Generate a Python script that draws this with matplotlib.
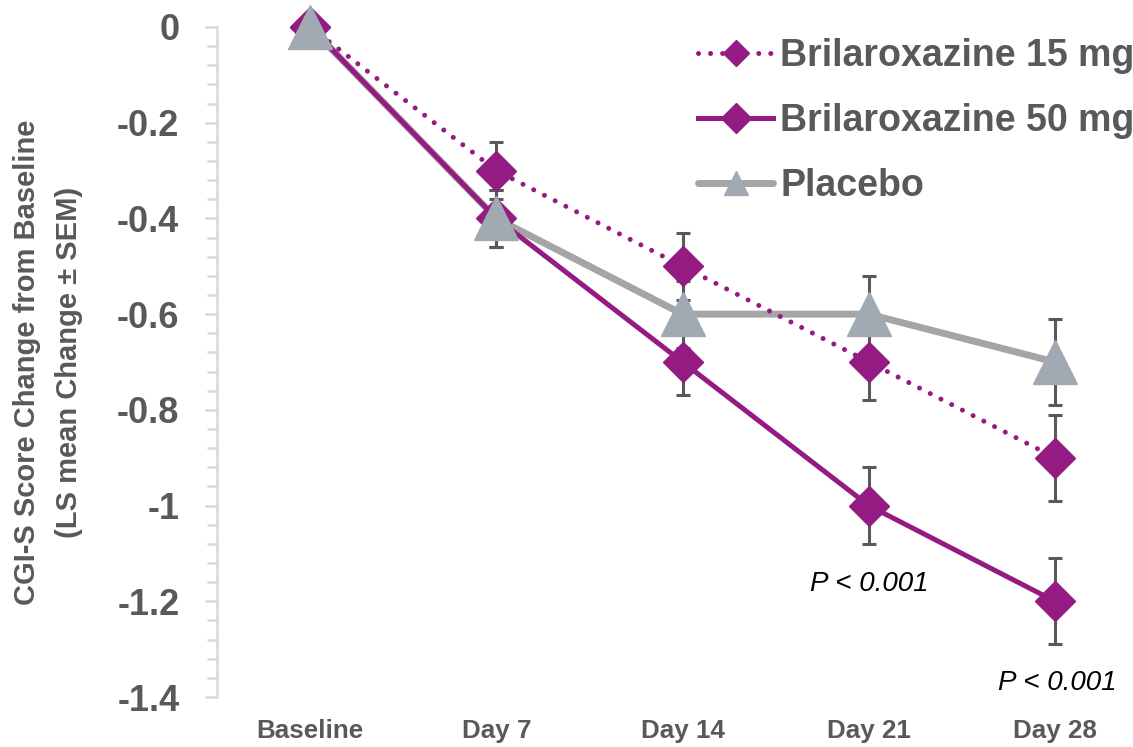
import matplotlib
matplotlib.use("Agg")
import matplotlib.pyplot as plt
from matplotlib.lines import Line2D
from matplotlib.ticker import MultipleLocator, FuncFormatter

# Visit labels and LS mean change from baseline (with SEM)
visits = ["Baseline", "Day 7", "Day 14", "Day 21", "Day 28"]
brx15_mean = [0.0, -0.3, -0.5, -0.7, -0.9]
brx15_sem = [0.0, 0.06, 0.07, 0.08, 0.09]
brx50_mean = [0.0, -0.4, -0.7, -1.0, -1.2]
brx50_sem = [0.0, 0.06, 0.07, 0.08, 0.09]
placebo_mean = [0.0, -0.4, -0.6, -0.6, -0.7]
placebo_sem = [0.0, 0.06, 0.07, 0.08, 0.09]
series_names = ["Brilaroxazine 15 mg", "Brilaroxazine 50 mg", "Placebo"]
pvalue_text = "P < 0.001"

PURPLE = "#941B82"
GRAY_LINE = "#A5A5A5"
GRAY_MARK = "#A1A9B2"
ERR = "#595959"
TXT = "#595959"
AXIS = "#D9D9D9"

plt.rcParams["font.family"] = ["Liberation Sans", "DejaVu Sans"]
plt.rcParams["axes.unicode_minus"] = False

fig = plt.figure(figsize=(11.33, 7.47), dpi=100)
W, H = 1133, 747
ax = fig.add_axes([217 / W, 1 - 697 / H, (W - 217) / W, (697 - 27) / H])

x = list(range(len(visits)))

# Error bars (behind the markers)
err_kw = dict(fmt="none", ecolor=ERR, elinewidth=2.2, capsize=4.7, capthick=2.2,
              zorder=2, clip_on=False)
for m, s in [(brx15_mean, brx15_sem), (brx50_mean, brx50_sem), (placebo_mean, placebo_sem)]:
    idx = [i for i in x if s[i] > 0]
    ax.errorbar([x[i] for i in idx], [m[i] for i in idx], yerr=[s[i] for i in idx], **err_kw)

# Lines
ax.plot(x, placebo_mean, color=GRAY_LINE, lw=5, solid_capstyle="round", zorder=3, clip_on=False)
ax.plot(x, brx50_mean, color=PURPLE, lw=3.6, zorder=3, clip_on=False)
ax.plot(x, brx15_mean, color=PURPLE, lw=3.6, linestyle=(0, (0.01, 2.4)),
        dash_capstyle="round", zorder=3, clip_on=False)

# Markers
ax.plot(x, brx15_mean, linestyle="none", marker="D", ms=20, color=PURPLE, zorder=4, clip_on=False)
ax.plot(x, brx50_mean, linestyle="none", marker="D", ms=20, color=PURPLE, zorder=4, clip_on=False)
ax.plot(x, placebo_mean, linestyle="none", marker="^", ms=31, color=GRAY_MARK, zorder=5, clip_on=False)

# Significance annotations
ax.text(3, -1.164, pvalue_text, ha="center", va="center", fontsize=20,
        style="italic", color="black")
ax.text(4.01, -1.371, pvalue_text, ha="center", va="center", fontsize=20,
        style="italic", color="black")

ax.set_xlim(-0.5, 4 + 78 / 186.25)
ax.set_ylim(-1.4, 0)

for side in ["top", "right", "bottom"]:
    ax.spines[side].set_visible(False)
ax.spines["left"].set_color(AXIS)
ax.spines["left"].set_linewidth(1.8)

ax.set_xticks(x)
ax.set_xticklabels(visits)
ax.tick_params(axis="x", length=0, pad=16, labelsize=18.7, labelcolor=TXT)
for t in ax.get_xticklabels():
    t.set_fontweight("bold")

ax.yaxis.set_major_locator(MultipleLocator(0.2))
ax.yaxis.set_minor_locator(MultipleLocator(0.04))
ax.yaxis.set_major_formatter(FuncFormatter(lambda v, p: f"{round(v, 2):g}" if abs(v) > 1e-9 else "0"))
ax.tick_params(axis="y", which="major", length=9, width=1.8, color=AXIS, pad=18,
               labelsize=26, labelcolor=TXT)
ax.tick_params(axis="y", which="minor", length=7, width=1.8, color=AXIS)
for t in ax.get_yticklabels():
    t.set_fontweight("bold")

fig.text(48 / W, 1 - 362 / H,
         "CGI-S Score Change from Baseline\n(LS mean Change \u00b1 SEM)",
         rotation=90, ha="center", va="center", ma="center", fontsize=21,
         fontweight="bold", color=TXT, linespacing=1.6)

# Legend
handles = [
    Line2D([], [], color=PURPLE, lw=3.6, linestyle=(0, (0.01, 2.4)), dash_capstyle="round",
           marker="D", ms=13, markerfacecolor=PURPLE, markeredgecolor=PURPLE),
    Line2D([], [], color=PURPLE, lw=3.6, marker="D", ms=15),
    Line2D([], [], color=GRAY_LINE, lw=5, solid_capstyle="round", marker="^", ms=17,
           markerfacecolor=GRAY_MARK, markeredgecolor=GRAY_MARK),
]
leg = ax.legend(handles, series_names, loc="upper left", bbox_to_anchor=(698 / W, 1 - 38 / H),
                bbox_transform=fig.transFigure, frameon=False, fontsize=27,
                handlelength=2.0, handletextpad=0.2, labelspacing=0.78, borderpad=0,
                borderaxespad=0)
for t in leg.get_texts():
    t.set_fontweight("bold")
    t.set_color(TXT)

fig.savefig("out.png", dpi=100)
